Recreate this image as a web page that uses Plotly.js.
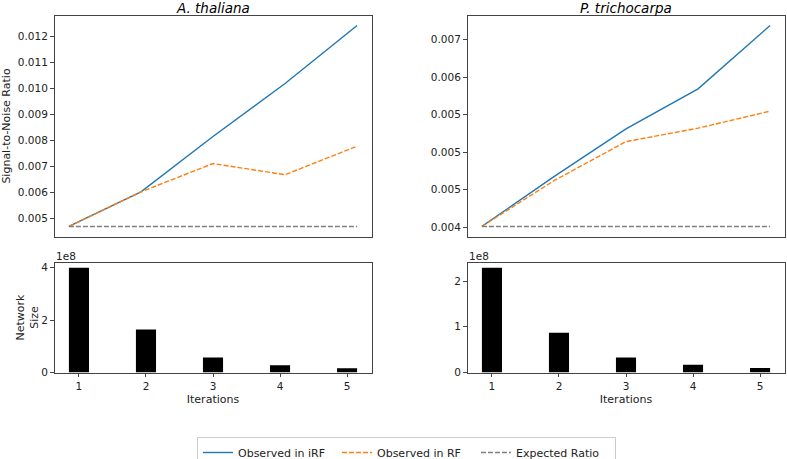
<!DOCTYPE html>
<html>
<head>
<meta charset="utf-8">
<script src="https://cdn.plot.ly/plotly-3.0.1.min.js"></script>
<style>html,body{margin:0;padding:0;background:#fff;overflow:hidden;}#wrap{width:787px;height:459px;overflow:hidden;}#chart{width:787px;height:475px;}</style>
</head>
<body>
<div id="wrap"><div id="chart"></div></div>
<script>
// ---- data ----
const iterations = [1, 2, 3, 4, 5];
const athIRF = [0.00468, 0.00601, 0.00814, 0.01018, 0.01241];
const athRF = [0.00468, 0.00601, 0.00710, 0.00667, 0.00777];
const athExpected = [0.00468, 0.00468, 0.00468, 0.00468, 0.00468];
const ptrIRF = [0.00401, 0.004675, 0.00531, 0.005844, 0.006688];
const ptrRF = [0.00401, 0.00462, 0.005141, 0.00532, 0.005547];
const ptrExpected = [0.00401, 0.00401, 0.00401, 0.00401, 0.00401];
const athSize = [4.0e8, 1.644e8, 0.574e8, 0.28e8, 0.165e8];
const ptrSize = [2.29e8, 0.867e8, 0.329e8, 0.167e8, 0.10e8];
const athTickVals = [0.005, 0.006, 0.007, 0.008, 0.009, 0.010, 0.011, 0.012];
const athTickText = ['0.005', '0.006', '0.007', '0.008', '0.009', '0.010', '0.011', '0.012'];
const ptrTickVals = [0.004, 0.0045, 0.005, 0.0055, 0.006, 0.0065];
const ptrTickText = ['0.004', '0.005', '0.005', '0.005', '0.006', '0.007'];
const athSizeTickVals = [0, 2e8, 4e8];
const athSizeTickText = ['0', '2', '4'];
const ptrSizeTickVals = [0, 1e8, 2e8];
const ptrSizeTickText = ['0', '1', '2'];
const barWidth = 0.3;

// ---- helpers ----
// figure is slightly taller than the window so the legend box is cut at the bottom edge, as in the reference
const W = 787, H = 475;
const px = v => v / W;
const py = v => 1 - v / H;
function pad(arrs, m) {
  const all = [].concat(...arrs);
  const lo = Math.min(...all), hi = Math.max(...all);
  const d = (hi - lo) * m;
  return [lo - d, hi + d];
}
const FONT = 'DejaVu Sans, sans-serif';
const blue = '#1f77b4', orange = '#ff7f0e', gray = '#7f7f7f';

const traces = [
  {x: iterations, y: athIRF, type: 'scatter', mode: 'lines', name: 'Observed in iRF', line: {color: blue, width: 1.4}, xaxis: 'x', yaxis: 'y'},
  {x: iterations, y: athRF, type: 'scatter', mode: 'lines', name: 'Observed in RF', line: {color: orange, width: 1.4, dash: '5px,2px'}, xaxis: 'x', yaxis: 'y'},
  {x: iterations, y: athExpected, type: 'scatter', mode: 'lines', name: 'Expected Ratio', line: {color: gray, width: 1.4, dash: '5px,2px'}, xaxis: 'x', yaxis: 'y'},
  {x: iterations, y: ptrIRF, type: 'scatter', mode: 'lines', showlegend: false, line: {color: blue, width: 1.4}, xaxis: 'x2', yaxis: 'y2'},
  {x: iterations, y: ptrRF, type: 'scatter', mode: 'lines', showlegend: false, line: {color: orange, width: 1.4, dash: '5px,2px'}, xaxis: 'x2', yaxis: 'y2'},
  {x: iterations, y: ptrExpected, type: 'scatter', mode: 'lines', showlegend: false, line: {color: gray, width: 1.4, dash: '5px,2px'}, xaxis: 'x2', yaxis: 'y2'},
  {x: iterations, y: athSize, type: 'bar', width: barWidth, showlegend: false, marker: {color: '#000'}, xaxis: 'x3', yaxis: 'y3'},
  {x: iterations, y: ptrSize, type: 'bar', width: barWidth, showlegend: false, marker: {color: '#000'}, xaxis: 'x4', yaxis: 'y4'}
];

const lineX = pad([iterations], 0.05);
const barX = pad([[iterations[0] - barWidth / 2, iterations[iterations.length - 1] + barWidth / 2]], 0.05);
const tickFont = {family: FONT, size: 10.5, color: '#222'};
const labelFont = {family: FONT, size: 11, color: '#222'};
const spine = {showline: true, mirror: true, linecolor: '#444', linewidth: 1, showgrid: false, zeroline: false};

const leftX = [px(54.5), px(371.5)];
const rightX = [px(467.5), px(784.5)];
const topY = [py(236.5), py(15.5)];
const botY = [py(372.5), py(262.5)];

const layout = {
  width: W, height: H,
  margin: {l: 0, r: 0, t: 0, b: 0},
  paper_bgcolor: '#fff', plot_bgcolor: '#fff',
  font: {family: FONT, size: 10.5, color: '#222'},
  showlegend: true,
  xaxis: Object.assign({}, spine, {domain: leftX, anchor: 'y', range: lineX, showticklabels: false, ticks: ''}),
  yaxis: Object.assign({}, spine, {domain: topY, anchor: 'x', range: pad([athIRF, athRF, athExpected], 0.05),
    tickvals: athTickVals, ticktext: athTickText, ticks: 'outside', ticklen: 3.5, tickcolor: '#444', tickfont: tickFont,
    title: {text: 'Signal-to-Noise Ratio', font: labelFont, standoff: 4}}),
  xaxis2: Object.assign({}, spine, {domain: rightX, anchor: 'y2', range: lineX, showticklabels: false, ticks: ''}),
  yaxis2: Object.assign({}, spine, {domain: topY, anchor: 'x2', range: pad([ptrIRF, ptrRF, ptrExpected], 0.05),
    tickvals: ptrTickVals, ticktext: ptrTickText, ticks: 'outside', ticklen: 3.5, tickcolor: '#444', tickfont: tickFont}),
  xaxis3: Object.assign({}, spine, {domain: leftX, anchor: 'y3', range: barX, tickvals: iterations, ticks: 'outside', ticklen: 3.5, tickcolor: '#444', tickfont: tickFont,
    title: {text: 'Iterations', font: labelFont, standoff: 4}}),
  yaxis3: Object.assign({}, spine, {domain: botY, anchor: 'x3', range: [0, Math.max(...athSize) * 1.05],
    tickvals: athSizeTickVals, ticktext: athSizeTickText, ticks: 'outside', ticklen: 3.5, tickcolor: '#444', tickfont: tickFont,
    title: {text: 'Network<br>Size', font: labelFont, standoff: 0}}),
  xaxis4: Object.assign({}, spine, {domain: rightX, anchor: 'y4', range: barX, tickvals: iterations, ticks: 'outside', ticklen: 3.5, tickcolor: '#444', tickfont: tickFont,
    title: {text: 'Iterations', font: labelFont, standoff: 4}}),
  yaxis4: Object.assign({}, spine, {domain: botY, anchor: 'x4', range: [0, Math.max(...ptrSize) * 1.05],
    tickvals: ptrSizeTickVals, ticktext: ptrSizeTickText, ticks: 'outside', ticklen: 3.5, tickcolor: '#444', tickfont: tickFont}),
  legend: {orientation: 'h', x: px(197), xanchor: 'left', y: py(437), yanchor: 'top',
    bordercolor: '#ccc', borderwidth: 1, bgcolor: '#fff', font: labelFont,
    traceorder: 'normal', itemwidth: 30, entrywidth: 94, entrywidthmode: 'pixels'},
  annotations: [
    {text: '<i>A. thaliana</i>', xref: 'paper', yref: 'paper', x: px(213), y: py(8), xanchor: 'center', yanchor: 'middle', showarrow: false, font: {family: FONT, size: 13.5, color: '#000'}},
    {text: '<i>P. trichocarpa</i>', xref: 'paper', yref: 'paper', x: px(626), y: py(8), xanchor: 'center', yanchor: 'middle', showarrow: false, font: {family: FONT, size: 13.5, color: '#000'}},
    {text: '1e8', xref: 'paper', yref: 'paper', x: px(54), y: py(256), xanchor: 'left', yanchor: 'middle', showarrow: false, font: {family: FONT, size: 10.5, color: '#222'}},
    {text: '1e8', xref: 'paper', yref: 'paper', x: px(467), y: py(256), xanchor: 'left', yanchor: 'middle', showarrow: false, font: {family: FONT, size: 10.5, color: '#222'}}
  ]
};

Plotly.newPlot('chart', traces, layout, {displayModeBar: false, staticPlot: true});
</script>
</body>
</html>
